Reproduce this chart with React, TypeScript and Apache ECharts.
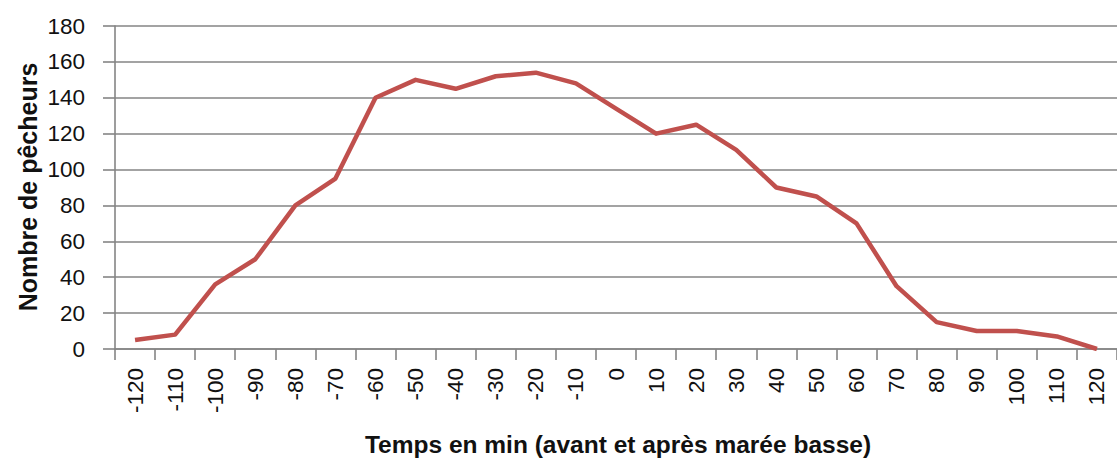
import React, { useEffect, useRef } from "react";
import * as echarts from "echarts";

const categories = ["-120","-110","-100","-90","-80","-70","-60","-50","-40","-30","-20","-10","0","10","20","30","40","50","60","70","80","90","100","110","120"];
const pecheurs = [5, 8, 36, 50, 80, 95, 140, 150, 145, 152, 154, 148, 134, 120, 125, 111, 90, 85, 70, 35, 15, 10, 10, 7, 0];
const yTitle = "Nombre de pêcheurs";
const xTitle = "Temps en min (avant et après marée basse)";

export default function App() {
  const ref = useRef<HTMLDivElement>(null);
  useEffect(() => {
    if (!ref.current) return;
    const chart = echarts.init(ref.current, null, { renderer: "svg" });
    const font = "'Liberation Sans', Arial, sans-serif";
    chart.setOption({
      animation: false,
      backgroundColor: "#ffffff",
      grid: { left: 115, top: 26, bottom: 110, right: -9.5, containLabel: false },
      xAxis: {
        type: "category",
        data: categories,
        boundaryGap: true,
        axisLine: { show: true, lineStyle: { color: "#858585", width: 1.6 } },
        axisTick: { show: true, alignWithLabel: false, length: 11, lineStyle: { color: "#858585", width: 1.6 } },
        axisLabel: { rotate: 90, margin: 19, fontFamily: font, fontSize: 22.5, color: "#111", interval: 0 },
        splitLine: { show: false },
      },
      yAxis: {
        type: "value",
        min: 0,
        max: 180,
        interval: 20,
        axisLine: { show: true, lineStyle: { color: "#858585", width: 1.6 } },
        axisTick: { show: true, length: 12, lineStyle: { color: "#858585", width: 1.6 } },
        axisLabel: { margin: 30, fontFamily: font, fontSize: 22.5, color: "#111" },
        splitLine: { show: true, lineStyle: { color: "#858585", width: 1.6 } },
      },
      graphic: [
        {
          type: "text",
          x: 28,
          y: 187,
          rotation: Math.PI / 2,
          style: {
            text: yTitle,
            fontFamily: font,
            fontWeight: "bold",
            fontSize: 25,
            fill: "#111",
            align: "center",
            verticalAlign: "middle",
          },
        },
        {
          type: "text",
          x: 618,
          y: 444,
          style: {
            text: xTitle,
            fontFamily: font,
            fontWeight: "bold",
            fontSize: 24.5,
            fill: "#111",
            align: "center",
            verticalAlign: "middle",
          },
        },
      ],
      series: [
        {
          type: "line",
          data: pecheurs,
          symbol: "none",
          smooth: false,
          lineStyle: { color: "#C0504D", width: 4.5, join: "round" },
        },
      ],
    });
    return () => chart.dispose();
  }, []);
  return (
    <div
      ref={ref}
      style={{ position: "absolute", left: 0, top: 0, width: 1117, height: 459 }}
    />
  );
}
